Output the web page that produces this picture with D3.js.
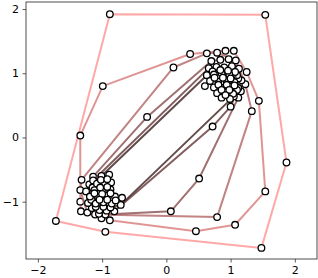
<!DOCTYPE html>
<html>
<head>
<meta charset="utf-8">
<script src="https://cdn.jsdelivr.net/npm/d3@7"></script>
<style>
    body { margin: 0; background: #fff; }
    svg { display: block; font-family: "DejaVu Sans", sans-serif; }
</style>
</head>
<body>
<div id="chart"></div>
<script>
// scattered points between / around the two clusters
const outX = [-0.88, 1.54, 1.87, 1.48, -0.95, -1.72, -0.99, -1.34, 0.37, 0.11, -0.30, 0.72, 1.00, 1.33, 1.44, 1.54, 1.07, 0.46, 0.79, 0.07, 0.51];
const outY = [1.92, 1.91, -0.39, -1.72, -1.47, -1.30, 0.80, 0.03, 1.30, 1.09, 0.32, 0.17, 0.48, 0.41, 0.57, -0.84, -1.36, -1.46, -1.24, -1.15, -0.64];

// upper right cluster
const upX = [0.63, 0.79, 0.92, 1.05,
    0.70, 0.84, 0.97, 1.08,
    0.66, 0.78, 0.90, 1.02, 1.13,
    0.63, 0.74, 0.86, 0.98, 1.10, 1.25,
    0.68, 0.81, 0.94, 1.06, 1.17,
    0.60, 0.74, 0.88, 1.00, 1.12, 1.23,
    0.79, 0.92, 1.04, 1.16,
    0.86, 0.99, 1.12,
    0.72, 0.84, 0.96, 1.07, 0.75, 0.88, 1.00, 1.12,
    0.81, 0.94, 1.06, 0.86, 0.98, 1.10, 0.92, 1.05];
const upY = [1.31, 1.32, 1.35, 1.35,
    1.19, 1.21, 1.22, 1.20,
    1.08, 1.10, 1.09, 1.11, 1.07,
    0.97, 0.98, 1.00, 0.98, 0.97, 1.02,
    0.88, 0.87, 0.88, 0.86, 0.89,
    0.80, 0.78, 0.77, 0.79, 0.77, 0.83,
    0.69, 0.70, 0.68, 0.72,
    0.62, 0.60, 0.62,
    1.03, 1.05, 1.04, 1.02, 0.93, 0.93, 0.92, 0.92,
    0.82, 0.82, 0.81, 0.74, 0.74, 0.74, 0.66, 0.64];

// lower left cluster
const lowX = [-1.32, -1.14, -1.01, -0.89,
    -1.20, -1.08, -0.96, -0.86,
    -1.34, -1.25, -1.12, -0.99, -0.87,
    -1.19, -1.06, -0.93, -0.80, -0.69,
    -1.34, -1.22, -1.10, -0.98, -0.85, -0.71,
    -1.16, -1.04, -0.93, -0.81,
    -1.33, -1.23, -1.11,
    -1.01, -0.88,
    -1.14, -1.02, -0.92, -1.15, -1.03, -0.92, -1.12, -1.00, -0.87,
    -1.17, -1.04, -0.92, -0.79, -1.10, -0.98, -0.87, -1.05, -0.95];
const lowY = [-0.66, -0.61, -0.60, -0.58,
    -0.73, -0.72, -0.72, -0.70,
    -0.82, -0.84, -0.82, -0.84, -0.81,
    -0.92, -0.93, -0.91, -0.92, -0.94,
    -1.00, -1.02, -1.03, -1.01, -1.03, -1.05,
    -1.10, -1.13, -1.14, -1.15,
    -1.15, -1.17, -1.20,
    -1.26, -1.29,
    -0.67, -0.66, -0.65, -0.78, -0.78, -0.77, -0.87, -0.88, -0.87,
    -0.97, -0.97, -0.97, -0.98, -1.08, -1.08, -1.09, -1.19, -1.20];

const xTicks = [-2, -1, 0, 1, 2];
const yTicks = [-1, 0, 1, 2];
const maxLayers = 6;

const width = 318;
const height = 278;
const margin = { left: 26, right: 1, top: 2, bottom: 19 };

const svg = d3.select("#chart")
    .append("svg")
    .attr("width", width)
    .attr("height", height);

const x = d3.scaleLinear()
    .domain([-2.185, 2.345])
    .range([margin.left, width - margin.right]);

const y = d3.scaleLinear()
    .domain([-1.893, 2.11])
    .range([height - margin.bottom, margin.top]);

// all points in one list
const points = [];
outX.forEach((v, i) => points.push([v, outY[i]]));
upX.forEach((v, i) => points.push([v, upY[i]]));
lowX.forEach((v, i) => points.push([v, lowY[i]]));

// peel convex hulls layer by layer
let rest = points.slice();
const layers = [];
while (rest.length >= 3 && layers.length < maxLayers) {
    const hull = d3.polygonHull(rest);
    if (!hull) break;
    layers.push(hull);
    const used = new Set(hull);
    rest = rest.filter((p) => !used.has(p));
}

// outer layer light pink, inner layers darker
const layerColor = (i) => {
    const t = layers.length > 1 ? i / (layers.length - 1) : 0;
    const k = 1 - 0.72 * t;
    return d3.rgb(255 * k, 153 * k, 153 * k).toString();
};

const line = d3.line()
    .x((d) => x(d[0]))
    .y((d) => y(d[1]));

const plot = svg.append("g");

const drawPoints = (pts) => {
    plot.append("g")
        .selectAll("circle")
        .data(pts)
        .enter()
        .append("circle")
        .attr("cx", (d) => x(d[0]))
        .attr("cy", (d) => y(d[1]))
        .attr("r", 3.3)
        .attr("fill", "#fff")
        .attr("stroke", "#000")
        .attr("stroke-width", 1.3);
};

layers.forEach((hull, i) => {
    plot.append("path")
        .attr("d", line(hull.concat([hull[0]])))
        .attr("fill", "none")
        .attr("stroke", layerColor(i))
        .attr("stroke-opacity", 0.85)
        .attr("stroke-width", 2)
        .attr("stroke-linejoin", "round");
    drawPoints(hull);
});
drawPoints(rest);

// axes
const fmt = (d) => d < 0 ? "\u2212" + Math.abs(d) : String(d);

const xAxis = svg.append("g")
    .attr("transform", `translate(0, ${height - margin.bottom})`)
    .call(d3.axisBottom(x).tickValues(xTicks).tickFormat(fmt).tickSize(3.5).tickPadding(3.5));

const yAxis = svg.append("g")
    .attr("transform", `translate(${margin.left}, 0)`)
    .call(d3.axisLeft(y).tickValues(yTicks).tickFormat(fmt).tickSize(3.5).tickPadding(3.5));

[xAxis, yAxis].forEach((g) => {
    g.select(".domain").remove();
    g.selectAll(".tick line").attr("stroke", "#333").attr("stroke-width", 0.8);
    g.selectAll(".tick text")
        .attr("fill", "#000")
        .style("font-size", "11px")
        .style("font-family", "DejaVu Sans, sans-serif");
});

// frame
svg.append("rect")
    .attr("x", margin.left)
    .attr("y", margin.top)
    .attr("width", width - margin.left - margin.right)
    .attr("height", height - margin.top - margin.bottom)
    .attr("fill", "none")
    .attr("stroke", "#222")
    .attr("stroke-width", 0.8);
</script>
</body>
</html>
